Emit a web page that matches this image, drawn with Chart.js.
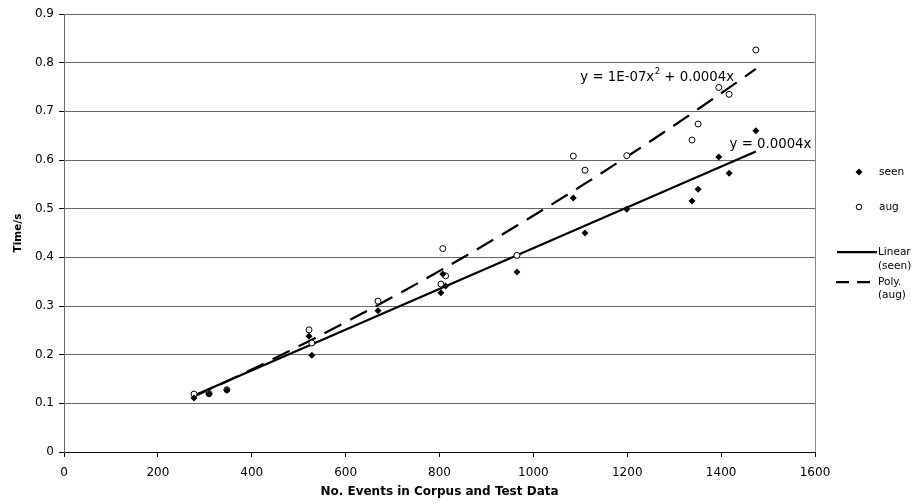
<!DOCTYPE html>
<html lang="en">
<head>
  <meta charset="UTF-8">
  <title>Time vs No. Events</title>
  <script src="https://cdn.jsdelivr.net/npm/chart.js@4.4.0/dist/chart.umd.min.js"></script>
  <style>
    * { margin: 0; padding: 0; box-sizing: border-box; }
    body { background: #fff; }
    #wrap { position: relative; width: 922px; height: 504px; }
  </style>
</head>
<body>
  <div id="wrap"><canvas id="myChart"></canvas></div>

<script>
  // values
  var eventCounts = [277, 309, 347, 522, 528, 669, 803, 807, 813, 965, 1085, 1110, 1199, 1338, 1351, 1395, 1417, 1474];
  var seenTimes = [0.111, 0.119, 0.127, 0.238, 0.199, 0.290, 0.327, 0.366, 0.341, 0.370, 0.522, 0.450, 0.499, 0.516, 0.540, 0.606, 0.573, 0.660];
  var augTimes = [0.119, 0.120, 0.128, 0.251, 0.224, 0.310, 0.345, 0.418, 0.362, 0.404, 0.608, 0.579, 0.609, 0.641, 0.674, 0.749, 0.735, 0.826];

  var xMin = 0, xMax = 1600, xStep = 200;
  var yMin = 0, yMax = 0.9, yStep = 0.1;

  var linearLabel = 'y = 0.0004x';
  var polyLabel = ['y = 1E-07x', '2', ' + 0.0004x'];

  // trendlines through the origin, least squares (like Excel with intercept = 0)
  function linearFit(xs, ys) {
    var sxy = 0, sxx = 0;
    for (var i = 0; i < xs.length; i++) { sxy += xs[i] * ys[i]; sxx += xs[i] * xs[i]; }
    return sxy / sxx;
  }
  function polyFit(xs, ys) {
    var s2 = 0, s3 = 0, s4 = 0, s2y = 0, s1y = 0;
    for (var i = 0; i < xs.length; i++) {
      var x = xs[i], y = ys[i];
      s2 += x * x; s3 += x * x * x; s4 += x * x * x * x;
      s2y += x * x * y; s1y += x * y;
    }
    var det = s4 * s2 - s3 * s3;
    return { a: (s2y * s2 - s3 * s1y) / det, b: (s4 * s1y - s3 * s2y) / det };
  }

  var lo = Math.min.apply(null, eventCounts), hi = Math.max.apply(null, eventCounts);
  var slope = linearFit(eventCounts, seenTimes);
  var pf = polyFit(eventCounts, augTimes);

  var linearLine = [{ x: lo, y: slope * lo }, { x: hi, y: slope * hi }];
  var polyLine = [];
  for (var k = 0; k <= 40; k++) {
    var xv = lo + (hi - lo) * k / 40;
    polyLine.push({ x: xv, y: pf.a * xv * xv + pf.b * xv });
  }

  var seenPts = eventCounts.map(function (x, i) { return { x: x, y: seenTimes[i] }; });
  var augPts = eventCounts.map(function (x, i) { return { x: x, y: augTimes[i] }; });

  Chart.defaults.font.family = "'DejaVu Sans', Verdana, sans-serif";
  Chart.defaults.color = '#000';

  // legend drawn by hand on the right, Excel style
  var sideLegend = {
    id: 'sideLegend',
    afterDraw: function (chart) {
      var ctx = chart.ctx, ca = chart.chartArea;
      var mx = ca.right + 44, tx = ca.right + 64;
      ctx.save();
      ctx.fillStyle = '#000';
      ctx.strokeStyle = '#000';
      ctx.font = "10.5px 'DejaVu Sans'";
      ctx.textBaseline = 'middle';

      // seen
      var y1 = 172;
      ctx.beginPath();
      ctx.moveTo(mx - 3.5, y1); ctx.lineTo(mx, y1 - 3.5); ctx.lineTo(mx + 3.5, y1); ctx.lineTo(mx, y1 + 3.5);
      ctx.closePath(); ctx.fill();
      ctx.fillText('seen', tx, y1);

      // aug
      var y2 = 207;
      ctx.beginPath(); ctx.arc(mx, y2, 2.8, 0, Math.PI * 2);
      ctx.fillStyle = '#fff'; ctx.fill();
      ctx.lineWidth = 1; ctx.stroke();
      ctx.fillStyle = '#000';
      ctx.fillText('aug', tx, y2);

      // linear (seen)
      var y3 = 252;
      ctx.lineWidth = 2.25;
      ctx.beginPath(); ctx.moveTo(ca.right + 22, y3); ctx.lineTo(ca.right + 62, y3); ctx.stroke();
      ctx.fillText('Linear', ca.right + 63, y3);
      ctx.fillText('(seen)', ca.right + 63, y3 + 14);

      // poly (aug)
      var y4 = 282;
      ctx.setLineDash([13, 8]);
      ctx.beginPath(); ctx.moveTo(ca.right + 21, y4); ctx.lineTo(ca.right + 62, y4); ctx.stroke();
      ctx.setLineDash([]);
      ctx.fillText('Poly.', ca.right + 63, y4);
      ctx.fillText('(aug)', ca.right + 63, y4 + 13);
      ctx.restore();
    }
  };

  // trendline equations
  var eqLabels = {
    id: 'eqLabels',
    afterDatasetsDraw: function (chart) {
      var ctx = chart.ctx, sx = chart.scales.x, sy = chart.scales.y;
      ctx.save();
      ctx.fillStyle = '#000';
      ctx.textBaseline = 'middle';
      ctx.font = "13.3px 'DejaVu Sans'";

      var px = sx.getPixelForValue(1100), py = sy.getPixelForValue(0.770);
      ctx.fillText(polyLabel[0], px, py);
      px += ctx.measureText(polyLabel[0]).width;
      ctx.font = "8.5px 'DejaVu Sans'";
      ctx.fillText(polyLabel[1], px + 0.5, py - 5);
      px += ctx.measureText(polyLabel[1]).width + 0.5;
      ctx.font = "13.3px 'DejaVu Sans'";
      ctx.fillText(polyLabel[2], px, py);

      ctx.fillText(linearLabel, sx.getPixelForValue(1418), sy.getPixelForValue(0.631));
      ctx.restore();
    }
  };

  var myChart = new Chart('myChart', {
    type: 'scatter',
    data: {
      datasets: [{
        label: 'seen',
        data: seenPts,
        pointStyle: 'rectRot',
        pointRadius: 3.5,
        pointBackgroundColor: '#000',
        pointBorderColor: '#000',
        pointBorderWidth: 0
      }, {
        label: 'aug',
        data: augPts,
        pointStyle: 'circle',
        pointRadius: 3,
        pointBackgroundColor: '#fff',
        pointBorderColor: '#000',
        pointBorderWidth: 1
      }, {
        label: 'Linear (seen)',
        data: linearLine,
        showLine: true,
        pointRadius: 0,
        borderColor: '#000',
        borderWidth: 2.25,
        fill: false
      }, {
        label: 'Poly. (aug)',
        data: polyLine,
        showLine: true,
        pointRadius: 0,
        borderColor: '#000',
        borderWidth: 2.25,
        borderDash: [19, 10],
        fill: false
      }]
    },
    options: {
      responsive: true,
      maintainAspectRatio: false,
      animation: false,
      layout: { padding: { top: 14, right: 107, left: 0, bottom: 0 } },
      plugins: {
        legend: { display: false },
        tooltip: { enabled: false }
      },
      scales: {
        x: {
          type: 'linear',
          min: xMin, max: xMax,
          ticks: {
            stepSize: xStep,
            font: { size: 12 },
            padding: 9,
            maxRotation: 0,
            callback: function (v) { return String(v); }
          },
          grid: {
            color: function (c) { return c.tick && c.tick.value === xMax ? '#888' : 'rgba(0,0,0,0)'; },
            tickColor: '#000',
            tickLength: 5
          },
          border: { color: '#000', width: 1 },
          title: {
            display: true,
            text: 'No. Events in Corpus and Test Data',
            font: { size: 12, weight: 'bold' },
            padding: { top: 0, bottom: 5 }
          },
          afterFit: function (s) { s.height = 52; }
        },
        y: {
          min: yMin, max: yMax,
          ticks: {
            stepSize: yStep,
            font: { size: 12 },
            padding: 5
          },
          grid: {
            color: '#666',
            tickColor: '#000',
            tickLength: 5
          },
          border: { color: '#666', width: 1 },
          title: {
            display: true,
            text: 'Time/s',
            font: { size: 10.5, weight: 'bold' },
            padding: { top: 12, bottom: 0 }
          },
          afterFit: function (s) { s.width = 64; }
        }
      }
    },
    plugins: [sideLegend, eqLabels]
  });
</script>
</body>
</html>
